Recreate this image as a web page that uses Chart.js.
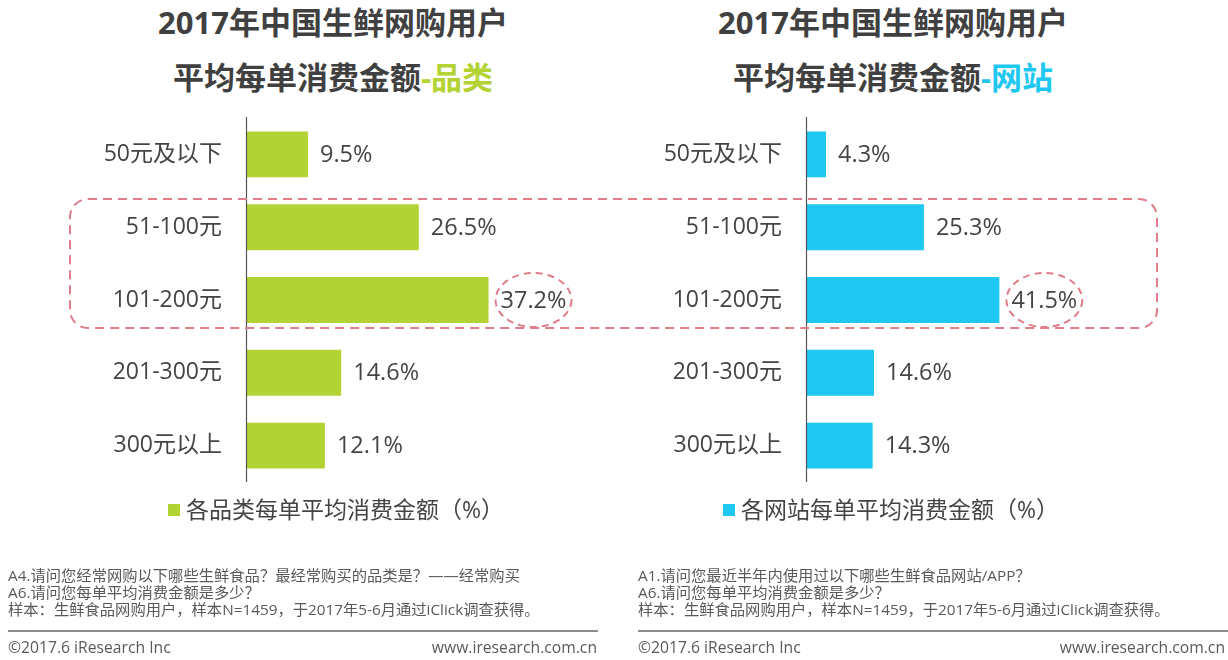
<!DOCTYPE html>
<html><head><meta charset="utf-8">
<script src="https://cdn.jsdelivr.net/npm/chart.js@4/dist/chart.umd.min.js"></script>
<style>
html,body{margin:0;padding:0;background:#fff;}
body{width:1228px;height:660px;position:relative;overflow:hidden;font-family:"Open Sans","Noto Sans CJK SC",sans-serif;}
.t{position:absolute;white-space:nowrap;}
.title{font-weight:bold;font-size:31px;color:#404040;width:614px;text-align:center;line-height:36px;}
.legend{font-size:23px;color:#444;line-height:28px;}
.legend i{display:inline-block;width:12px;height:12px;margin-right:6px;vertical-align:2px;}
.note{font-size:15.3px;color:#595959;line-height:17px;}
.foot{font-size:15.7px;color:#595959;}
.sep{position:absolute;height:0;border-top:2px solid #8c8c8c;}
canvas{position:absolute;display:block;}
</style></head>
<body>
<div class="t title" style="left:26px;top:4px;">2017年中国生鲜网购用户</div>
<div class="t title" style="left:26px;top:59px;">平均每单消费金额<span style="color:#b3d233">-品类</span></div>
<div class="t title" style="left:586px;top:4px;">2017年中国生鲜网购用户</div>
<div class="t title" style="left:586px;top:59px;">平均每单消费金额<span style="color:#1ec8f0">-网站</span></div>

<canvas id="c1" width="614" height="400" style="left:0;top:100px;width:614px;height:400px;"></canvas>
<canvas id="c2" width="614" height="400" style="left:614px;top:100px;width:614px;height:400px;"></canvas>

<svg style="position:absolute;left:0;top:0;" width="1228" height="660">
<rect x="70" y="199" width="1087" height="129" rx="18" ry="18" fill="none" stroke="#e07d8a" stroke-width="2" stroke-dasharray="9 6"/>
</svg>

<div class="t legend" style="left:168px;top:495px;"><i style="background:#b3d233"></i>各品类每单平均消费金额（%）</div>
<div class="t legend" style="left:723px;top:495px;"><i style="background:#1ec8f0"></i>各网站每单平均消费金额（%）</div>

<div class="t note" style="left:8px;top:567px;">A4.请问您经常网购以下哪些生鲜食品？最经常购买的品类是？——经常购买<br>A6.请问您每单平均消费金额是多少？<br>样本：生鲜食品网购用户，样本N=1459，于2017年5-6月通过iClick调查获得。</div>
<div class="t note" style="left:638px;top:567px;">A1.请问您最近半年内使用过以下哪些生鲜食品网站/APP？<br>A6.请问您每单平均消费金额是多少？<br>样本：生鲜食品网购用户，样本N=1459，于2017年5-6月通过iClick调查获得。</div>
<div class="sep" style="left:8px;top:630px;width:590px;"></div>
<div class="sep" style="left:638px;top:630px;width:590px;"></div>
<div class="t foot" style="left:8px;top:636px;">©2017.6 iResearch Inc</div>
<div class="t foot" style="right:631px;top:636px;">www.iresearch.com.cn</div>
<div class="t foot" style="left:638px;top:636px;">©2017.6 iResearch Inc</div>
<div class="t foot" style="right:3px;top:636px;">www.iresearch.com.cn</div>

<script>
const categories = ["50元及以下", "51-100元", "101-200元", "201-300元", "300元以上"];
const categoryValues = [9.5, 26.5, 37.2, 14.6, 12.1];
const websiteValues = [4.3, 25.3, 41.5, 14.6, 14.3];
const seriesLabels = ["各品类每单平均消费金额（%）", "各网站每单平均消费金额（%）"];
const highlightIndex = 2;

const FONT = '"Open Sans","Noto Sans CJK SC",sans-serif';

const overlay = {
  id: 'overlay',
  afterDatasetsDraw(chart) {
    const ctx = chart.ctx;
    const ca = chart.chartArea;
    ctx.save();
    ctx.strokeStyle = '#555';
    ctx.lineWidth = 1.2;
    ctx.beginPath();
    ctx.moveTo(ca.left + 0.5, ca.top - 1);
    ctx.lineTo(ca.left + 0.5, ca.bottom);
    ctx.stroke();
    const meta = chart.getDatasetMeta(0);
    const data = chart.data.datasets[0].data;
    ctx.font = '23.5px ' + FONT;
    ctx.fillStyle = '#444';
    ctx.textBaseline = 'middle';
    ctx.textAlign = 'left';
    meta.data.forEach((bar, i) => {
      const txt = data[i].toFixed(1) + '%';
      ctx.fillText(txt, bar.x + 12, bar.y + 1);
      if (i === highlightIndex) {
        const w = ctx.measureText(txt).width;
        ctx.strokeStyle = '#e07d8a';
        ctx.lineWidth = 2;
        ctx.setLineDash([7, 5]);
        ctx.beginPath();
        ctx.ellipse(bar.x + 12 + w / 2, bar.y, w / 2 + 5, 27, 0, 0, Math.PI * 2);
        ctx.stroke();
        ctx.setLineDash([]);
      }
    });
    ctx.restore();
  }
};

function makeChart(id, values, color, label, axisWidth, rightPad) {
  return new Chart(document.getElementById(id), {
    type: 'bar',
    data: {
      labels: categories,
      datasets: [{ label: label, data: values, backgroundColor: color,
        categoryPercentage: 1, barPercentage: 0.63 }]
    },
    options: {
      indexAxis: 'y',
      responsive: false,
      devicePixelRatio: 1,
      animation: false,
      layout: { padding: { top: 18, bottom: 18, right: rightPad, left: 0 } },
      plugins: { legend: { display: false }, tooltip: { enabled: false } },
      scales: {
        x: { display: false, min: 0, max: 50 },
        y: {
          grid: { display: false, drawTicks: false },
          border: { display: false },
          ticks: { padding: 24, color: '#444', font: { family: FONT, size: 23 } },
          afterFit(scale) {
            scale.width = axisWidth;
            scale.paddingTop = 0;
            scale.paddingBottom = 0;
          }
        }
      }
    },
    plugins: [overlay]
  });
}

makeChart('c1', categoryValues, '#b3d233', seriesLabels[0], 246, 42);
makeChart('c2', websiteValues, '#1ec8f0', seriesLabels[1], 192, 189);
</script>
</body></html>
